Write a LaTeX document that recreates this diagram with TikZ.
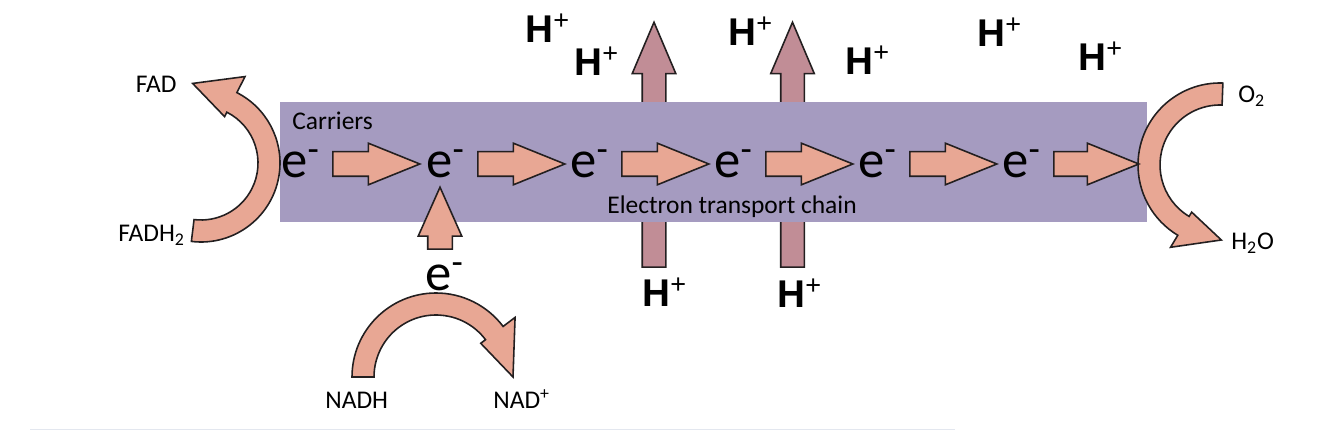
\documentclass[tikz,border=0pt]{standalone}
\usepackage{fontspec}
\setmainfont{Carlito}
\newfontfamily\heavyfont{Liberation Sans}
\usetikzlibrary{shapes.arrows}
\definecolor{band}{HTML}{A59BC0}
\definecolor{salmon}{HTML}{E8A794}
\definecolor{rose}{HTML}{C18D96}
\definecolor{ink}{HTML}{231F20}
\definecolor{faint}{HTML}{E3E7EF}
\tikzset{elec/.style={inner sep=0pt,text height=15pt,text depth=0pt,font=\fontsize{30}{30}\selectfont},
  hplus/.style={anchor=base west,inner sep=0pt,font=\heavyfont\bfseries\fontsize{22}{22}\selectfont},
  lbl/.style={inner sep=0pt,font=\fontsize{14.5}{16}\selectfont},
  harrow/.style={single arrow,draw=ink,fill=salmon,line width=0.9pt,inner xsep=0pt,inner ysep=0.23cm,
    single arrow head extend=0.17cm,single arrow tip angle=44,minimum height=1.74cm,anchor=tail},
  parrow/.style={harrow,fill=rose,rotate=90,minimum height=4.9cm,inner ysep=0.22cm,single arrow head extend=0.2cm,single arrow tip angle=46},
  uarrow/.style={harrow,rotate=90,minimum height=1.24cm,inner ysep=0.23cm,single arrow head extend=0.19cm,single arrow tip angle=48},
  blk/.style={draw=ink,fill=salmon,line width=0.9pt}}
% curved block arrow: centre, inner r, outer r, start, end, barb in, barb out, tip angle, tip r
\newcommand{\bandarrow}[9]{%
  \begin{scope}[shift={#1}]
    \filldraw[blk] (#4:#3) arc[start angle=#4,end angle=#5,radius=#3]
      -- (#5:#7) -- (#8:#9) -- (#5:#6) -- (#5:#2)
      arc[start angle=#5,end angle=#4,radius=#2] -- cycle;
  \end{scope}}

\begin{document}
\begin{tikzpicture}[x=0.02cm,y=0.02cm]
    \useasboundingbox (0,0) rectangle (1334,-431);

    % protons pumped across
    \node[parrow] (p1) at (654,-268) {};
    \node[parrow] (p2) at (792.5,-268) {};

    % membrane band
    \fill[band] (280,-102) rectangle (1147,-222);

    \bandarrow{(201,-163)}{57}{79}{-97}{63}{52}{97}{96}{80}
    \bandarrow{(1220,-165)}{60}{82}{88}{239}{55}{96}{271}{75}
    \bandarrow{(436,-377)}{62}{84}{180}{37}{56}{99}{0}{77}

    \node[elec] (e1) at (300.5,-164) {e\textsuperscript{-}};
    \node[elec] (e2) at (445.5,-164) {e\textsuperscript{-}};
    \node[elec] (e3) at (589.5,-164) {e\textsuperscript{-}};
    \node[elec] (e4) at (733.5,-164) {e\textsuperscript{-}};
    \node[elec] (e5) at (877.5,-164) {e\textsuperscript{-}};
    \node[elec] (e6) at (1021.5,-164) {e\textsuperscript{-}};
    \node[elec] (eb) at (444.5,-277) {e\textsuperscript{-}};

    \node[harrow] (a1) at ([xshift=0.24cm]e1.east) {};
    \node[harrow] (a2) at ([xshift=0.24cm]e2.east) {};
    \node[harrow] (a3) at ([xshift=0.24cm]e3.east) {};
    \node[harrow] (a4) at ([xshift=0.24cm]e4.east) {};
    \node[harrow] (a5) at ([xshift=0.24cm]e5.east) {};
    \node[harrow,minimum height=1.7cm] (a6) at ([xshift=0.24cm]e6.east) {};
    \node[uarrow] (up) at ([xshift=-0.09cm,yshift=0.27cm]eb.north) {};

    \node[hplus] (h1) at (525,-43) {H\textsuperscript{\mdseries+}};
    \node[hplus] (h2) at (574,-76) {H\textsuperscript{\mdseries+}};
    \node[hplus] (h3) at (728,-46) {H\textsuperscript{\mdseries+}};
    \node[hplus] (h4) at (845,-75) {H\textsuperscript{\mdseries+}};
    \node[hplus] (h5) at (977,-47) {H\textsuperscript{\mdseries+}};
    \node[hplus] (h6) at (1078,-71) {H\textsuperscript{\mdseries+}};
    \node[hplus] (h7) at (642,-307) {H\textsuperscript{\mdseries+}};
    \node[hplus] (h8) at (777,-308) {H\textsuperscript{\mdseries+}};

    \node[lbl,anchor=base west] (carr) at (292,-130) {Carriers};
    \node[lbl,anchor=base west] (etc) at (607,-214) {Electron transport chain};
    \node[lbl,anchor=base east] (fad) at (177,-93) {FAD};
    \node[lbl,anchor=base west] (fadh) at (118,-242) {FADH\textsubscript{2}};
    \node[lbl,anchor=base west] (o2) at (1238,-103) {O\textsubscript{2}};
    \node[lbl,anchor=base west] (h2o) at (1231,-250) {H\textsubscript{2}O};
    \node[lbl,anchor=base west] (nadh) at (325,-409) {NADH};
    \node[lbl,anchor=base west] (nad) at (493,-409) {NAD\textsuperscript{+}};

    \draw[faint,line width=0.02cm] (30,-430) -- (955,-430);
\end{tikzpicture}
\end{document}
